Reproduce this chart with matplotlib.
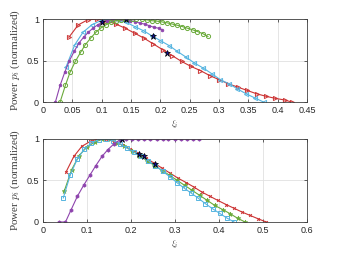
import matplotlib
matplotlib.use("Agg")
import matplotlib.pyplot as plt

plt.rcParams['mathtext.fontset'] = 'cm'
plt.rcParams['font.family'] = ['Liberation Sans', 'DejaVu Sans']

RED = '#cc3333'
PURPLE = '#8e44ad'
GREEN = '#6aaa3a'
LBLUE = '#55b4e0'
STAR = '#0a0aa0'

# --- top panel ---
top_red_x = [0.044, 0.060, 0.076, 0.092, 0.108, 0.124, 0.140, 0.156, 0.172, 0.188, 0.204, 0.220, 0.236,
             0.252, 0.268, 0.284, 0.300, 0.316, 0.332, 0.348, 0.364, 0.380, 0.396, 0.412, 0.424]
top_red_y = [0.78, 0.93, 0.99, 1.00, 0.98, 0.94, 0.89, 0.83, 0.77, 0.70, 0.63, 0.56, 0.49,
             0.43, 0.38, 0.32, 0.27, 0.22, 0.18, 0.14, 0.10, 0.07, 0.045, 0.025, 0.0]

top_blue_x = [0.039, 0.054, 0.068, 0.083, 0.098, 0.112, 0.127, 0.142, 0.156, 0.171, 0.185, 0.200,
              0.215, 0.229, 0.244, 0.258, 0.273, 0.288, 0.302, 0.317, 0.331, 0.346, 0.361, 0.376]
top_blue_y = [0.42, 0.69, 0.84, 0.93, 0.98, 1.00, 0.99, 0.96, 0.91, 0.86, 0.80, 0.74,
              0.68, 0.61, 0.54, 0.47, 0.41, 0.34, 0.27, 0.22, 0.16, 0.10, 0.05, 0.0]

top_purple_x = [0.021, 0.029, 0.037, 0.045, 0.053, 0.061, 0.069, 0.077, 0.085, 0.093, 0.101, 0.109,
                0.117, 0.125, 0.133, 0.141, 0.149, 0.157, 0.165, 0.173, 0.181, 0.189, 0.197, 0.203]
top_purple_y = [0.0, 0.20, 0.36, 0.50, 0.61, 0.71, 0.78, 0.84, 0.89, 0.93, 0.96, 0.98,
                0.99, 1.0, 1.0, 0.99, 0.98, 0.97, 0.95, 0.94, 0.92, 0.90, 0.89, 0.87]

top_green_x = [0.029, 0.038, 0.046, 0.055, 0.064, 0.072, 0.081, 0.090, 0.098, 0.107, 0.116, 0.125,
               0.133, 0.142, 0.151, 0.159, 0.168, 0.177, 0.185, 0.194, 0.203, 0.211, 0.220, 0.229,
               0.237, 0.246, 0.255, 0.263, 0.272, 0.281]
top_green_y = [0.0, 0.20, 0.36, 0.49, 0.60, 0.69, 0.77, 0.84, 0.89, 0.93, 0.96, 0.98,
               0.99, 1.0, 1.0, 1.0, 0.995, 0.99, 0.98, 0.975, 0.965, 0.955, 0.94, 0.925,
               0.91, 0.89, 0.87, 0.85, 0.825, 0.79]

top_star_x = [0.100, 0.141, 0.188, 0.212]
top_star_y = [0.96, 0.995, 0.79, 0.586]

# --- bottom panel ---
bot_red_x = [0.052, 0.070, 0.088, 0.107, 0.125, 0.143, 0.161, 0.179, 0.197, 0.216, 0.234, 0.252, 0.270,
             0.288, 0.306, 0.325, 0.343, 0.361, 0.379, 0.397, 0.416, 0.434, 0.452, 0.470, 0.488, 0.507]
bot_red_y = [0.60, 0.79, 0.91, 0.97, 1.0, 1.0, 0.97, 0.93, 0.88, 0.83, 0.77, 0.71, 0.65,
             0.59, 0.53, 0.475, 0.42, 0.36, 0.31, 0.26, 0.21, 0.165, 0.12, 0.08, 0.04, 0.0]

bot_green_x = [0.048, 0.065, 0.082, 0.099, 0.117, 0.134, 0.151, 0.168, 0.185, 0.202, 0.219, 0.236,
               0.253, 0.271, 0.288, 0.305, 0.322, 0.339, 0.356, 0.373, 0.390, 0.408, 0.425, 0.442, 0.459]
bot_green_y = [0.37, 0.63, 0.80, 0.90, 0.96, 0.995, 1.0, 0.955, 0.91, 0.86, 0.80, 0.74,
               0.68, 0.62, 0.56, 0.50, 0.44, 0.38, 0.32, 0.26, 0.20, 0.15, 0.10, 0.045, 0.0]

bot_blue_x = [0.046, 0.062, 0.078, 0.094, 0.110, 0.126, 0.143, 0.159, 0.175, 0.191, 0.207, 0.223,
              0.239, 0.255, 0.272, 0.288, 0.304, 0.320, 0.336, 0.353, 0.369, 0.385, 0.401, 0.417, 0.434]
bot_blue_y = [0.29, 0.57, 0.76, 0.88, 0.95, 0.99, 1.0, 0.98, 0.94, 0.89, 0.84, 0.79,
              0.74, 0.68, 0.61, 0.545, 0.475, 0.41, 0.35, 0.285, 0.22, 0.16, 0.105, 0.05, 0.0]

bot_purple_x = [0.037, 0.051, 0.064, 0.078, 0.092, 0.106, 0.120, 0.134, 0.147, 0.161, 0.175, 0.189,
                0.203, 0.216, 0.230, 0.244, 0.258, 0.272, 0.285, 0.299, 0.313, 0.327, 0.341, 0.355]
bot_purple_y = [0.0, 0.0, 0.15, 0.31, 0.44, 0.56, 0.68, 0.79, 0.87, 0.94, 0.99, 1.0,
                1.0, 1.0, 1.0, 1.0, 1.0, 1.0, 1.0, 1.0, 1.0, 1.0, 1.0, 1.0]

bot_star_x = [0.179, 0.218, 0.230, 0.255]
bot_star_y = [1.0, 0.815, 0.795, 0.70]

fig = plt.figure(figsize=(3.39, 2.54), dpi=100)
ax1 = fig.add_axes([0.127, 0.598, 0.779, 0.327])
ax2 = fig.add_axes([0.127, 0.126, 0.779, 0.327])

lw = 0.8
ms = 3
ax1.plot(top_red_x, top_red_y, '-', color=RED, lw=lw, marker='>', ms=ms, mfc='none', mew=0.7)
ax1.plot(top_blue_x, top_blue_y, '-', color=LBLUE, lw=lw, marker='<', ms=ms, mfc='none', mew=0.7)
ax1.plot(top_purple_x, top_purple_y, '-', color=PURPLE, lw=lw, marker='o', ms=2.0, mew=0.5)
ax1.plot(top_green_x, top_green_y, '-', color=GREEN, lw=lw, marker='o', ms=3, mfc='none', mew=0.7)
ax1.plot(top_star_x, top_star_y, '*', color=STAR, mec='k', ms=5, mew=0.5, ls='none')

ax2.plot(bot_red_x, bot_red_y, '-', color=RED, lw=lw, marker='x', ms=2, mew=0.7)
ax2.plot(bot_green_x, bot_green_y, '-', color=GREEN, lw=lw, marker='*', ms=3.5, mew=0.5)
ax2.plot(bot_blue_x, bot_blue_y, '-', color=LBLUE, lw=lw, marker='s', ms=2.6, mfc='none', mew=0.7)
ax2.plot(bot_purple_x, bot_purple_y, '-', color=PURPLE, lw=lw, marker='h', ms=2.5, mew=0.5)
ax2.plot(bot_star_x, bot_star_y, '*', color=STAR, mec='k', ms=5, mew=0.5, ls='none')

ax1.set_xlim(0, 0.45)
ax1.set_xticks([0, 0.05, 0.1, 0.15, 0.2, 0.25, 0.3, 0.35, 0.4, 0.45])
ax1.set_xticklabels(['0', '0.05', '0.1', '0.15', '0.2', '0.25', '0.3', '0.35', '0.4', '0.45'])
ax2.set_xlim(0, 0.6)
ax2.set_xticks([0, 0.1, 0.2, 0.3, 0.4, 0.5, 0.6])
ax2.set_xticklabels(['0', '0.1', '0.2', '0.3', '0.4', '0.5', '0.6'])

for ax in (ax1, ax2):
    ax.set_ylim(0, 1)
    ax.set_yticks([0, 0.5, 1])
    ax.set_yticklabels(['0', '0.5', '1'])
    ax.grid(True, color='#e0e0e0', lw=0.6)
    ax.set_axisbelow(True)
    ax.tick_params(direction='in', top=True, right=True, labelsize=6.5, length=2.5,
                   width=0.5, colors='#262626', pad=3)
    for s in ax.spines.values():
        s.set_color('#404040')
        s.set_linewidth(0.6)
    ax.set_ylabel('Power $p_i$ (normalized)', fontsize=8, family='Liberation Serif',
                  color='#404040', labelpad=3)
    ax.set_xlabel(r'$\xi_i$', fontsize=6.5, color='#404040', labelpad=2)

fig.savefig('out.png', dpi=100)
